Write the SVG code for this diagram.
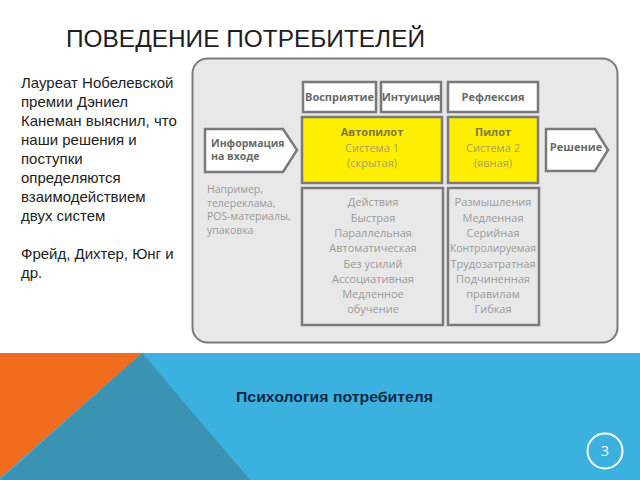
<svg xmlns="http://www.w3.org/2000/svg" width="640" height="480" viewBox="0 0 640 480">
<defs>
<style>
.title{font-family:"Liberation Sans",Arial,sans-serif;font-size:24px;fill:#1e1e1e}
.body{font-family:"Liberation Sans",Arial,sans-serif;font-size:15px;fill:#222}
.box{stroke:#7a7a7a;stroke-width:2.5}
.white{fill:#ffffff}
.yellow{fill:#ffee00}
.grey{fill:#e8e8e8}
.lbl{font-family:"Open Sans","Noto Sans",sans-serif;font-weight:bold;font-size:11px;fill:#6a6a6a;text-anchor:middle}
.in{font-family:"Open Sans","Noto Sans",sans-serif;font-weight:bold;font-size:10.5px;fill:#6a6a6a}
.ylb{font-family:"Open Sans","Noto Sans",sans-serif;font-weight:bold;font-size:11px;fill:#7d7845;text-anchor:middle}
.ysub{font-family:"Open Sans","Noto Sans",sans-serif;font-size:11px;fill:#a8a060;text-anchor:middle}
.list{font-family:"Open Sans","Noto Sans",sans-serif;font-size:11px;fill:#9a9a9a;text-anchor:middle}
.note{font-family:"Open Sans","Noto Sans",sans-serif;font-size:10.5px;fill:#9a9a9a}
.foot{font-family:"Liberation Sans",Arial,sans-serif;font-weight:bold;font-size:15px;fill:#0f2a44}
</style>
</defs>
<rect width="640" height="480" fill="#ffffff"/>

<g id="footer">
<rect x="0" y="353" width="640" height="127" fill="#3bb1df"/>
<polygon points="142,353 250,480 0,480" fill="#3a93b2"/>
<polygon points="0,353 142,353 0,478" fill="#f26c1d"/>
<text class="foot" x="236" y="402" textLength="197" lengthAdjust="spacingAndGlyphs">Психология потребителя</text>
<circle cx="605" cy="451" r="17.5" fill="none" stroke="#ffffff" stroke-width="2"/>
<text x="605" y="456" text-anchor="middle" font-family="'Open Sans','Noto Sans',sans-serif" font-size="14" fill="#ffffff">3</text>
</g>

<g id="title"><text class="title" x="66" y="47" textLength="359" lengthAdjust="spacingAndGlyphs">ПОВЕДЕНИЕ ПОТРЕБИТЕЛЕЙ</text></g>

<g id="intro">
<text class="body" x="21" y="88">Лауреат Нобелевской</text>
<text class="body" x="21" y="107">премии Дэниел</text>
<text class="body" x="21" y="126">Канеман выяснил, что</text>
<text class="body" x="21" y="145">наши решения и</text>
<text class="body" x="21" y="164">поступки</text>
<text class="body" x="21" y="183">определяются</text>
<text class="body" x="21" y="202">взаимодействием</text>
<text class="body" x="21" y="221">двух систем</text>
<text class="body" x="21" y="259">Фрейд, Дихтер, Юнг и</text>
<text class="body" x="21" y="278">др.</text>
</g>

<g id="panel">
<rect x="192.5" y="58.5" width="425" height="284" rx="15" fill="#e8e8e8" stroke="#7a7a7a" stroke-width="2"/>
</g>

<g id="vospriyatie">
<rect class="box white" x="303" y="82" width="73" height="30"/>
<text class="lbl" x="339.5" y="101">Восприятие</text>
</g>
<g id="intuitsiya">
<rect class="box white" x="381" y="82" width="60" height="30"/>
<text class="lbl" x="411" y="101">Интуиция</text>
</g>
<g id="refleksiya">
<rect class="box white" x="448" y="82" width="90" height="30"/>
<text class="lbl" x="493" y="101">Рефлексия</text>
</g>

<g id="avtopilot">
<rect class="box yellow" x="302" y="117" width="140" height="66"/>
<text class="ylb" x="372" y="136">Автопилот</text>
<text class="ysub" x="372" y="152">Система 1</text>
<text class="ysub" x="372" y="167">(скрытая)</text>
</g>
<g id="pilot">
<rect class="box yellow" x="448" y="117" width="90" height="66"/>
<text class="ylb" x="493" y="136">Пилот</text>
<text class="ysub" x="493" y="152">Система 2</text>
<text class="ysub" x="493" y="167">(явная)</text>
</g>

<g id="system1-list">
<rect class="box grey" x="302" y="188" width="141" height="137"/>
<text class="list" x="373" y="206">Действия</text>
<text class="list" x="373" y="222">Быстрая</text>
<text class="list" x="373" y="237">Параллельная</text>
<text class="list" x="373" y="252">Автоматическая</text>
<text class="list" x="373" y="268">Без усилий</text>
<text class="list" x="373" y="283">Ассоциативная</text>
<text class="list" x="373" y="298">Медленное</text>
<text class="list" x="373" y="313">обучение</text>
</g>
<g id="system2-list">
<rect class="box grey" x="448" y="188" width="91" height="137"/>
<text class="list" x="493" y="206">Размышления</text>
<text class="list" x="493" y="222">Медленная</text>
<text class="list" x="493" y="237">Серийная</text>
<text class="list" x="493" y="252" textLength="86" lengthAdjust="spacingAndGlyphs">Контролируемая</text>
<text class="list" x="493" y="268">Трудозатратная</text>
<text class="list" x="493" y="283">Подчиненная</text>
<text class="list" x="493" y="298">правилам</text>
<text class="list" x="493" y="313">Гибкая</text>
</g>

<g id="input">
<polygon class="box white" points="205,129 283,129 297,150 283,172 205,172" stroke-width="2"/>
<text class="in" x="211" y="147">Информация</text>
<text class="in" x="211" y="160">на входе</text>
<text class="note" x="207" y="193">Например,</text>
<text class="note" x="207" y="206.5">телереклама,</text>
<text class="note" x="207" y="220">POS-материалы,</text>
<text class="note" x="207" y="233.5">упаковка</text>
</g>

<g id="decision">
<polygon class="box white" points="546,129 595,129 608,150 595,171 546,171" stroke-width="2"/>
<text class="lbl" x="576" y="151">Решение</text>
</g>

<g id="connectors"></g>
</svg>
